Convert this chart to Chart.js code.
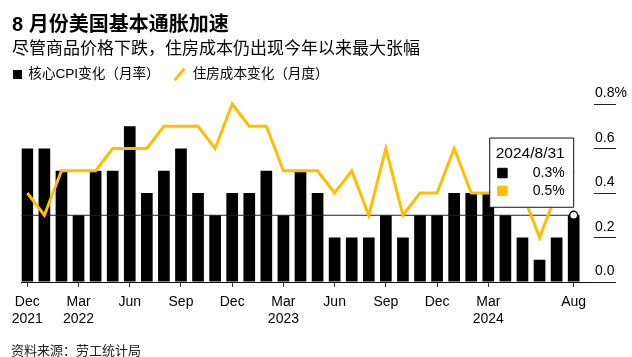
<!DOCTYPE html>
<html>
<head>
<meta charset="utf-8">
<script src="https://cdn.jsdelivr.net/npm/chart.js@4.4.1/dist/chart.umd.min.js"></script>
<style>
  html, body { margin:0; padding:0; background:#fff; }
  #wrap { position:relative; width:632px; height:357px; overflow:hidden; background:#fff;
          font-family:"Liberation Sans", Arial, "Noto Sans CJK SC", sans-serif; color:#000; }
  #c { position:absolute; left:0; top:0; }
  .txt { position:absolute; white-space:nowrap; }
  #title { left:12px; top:13.5px; height:20px; line-height:20px; font-size:20px; font-weight:bold; }
  #sub { left:12px; top:38.5px; height:20px; line-height:20px; font-size:17px; }
  #src { left:11px; top:341px; height:20px; line-height:20px; font-size:13px; color:#222; }
  .leg { top:64px; height:20px; line-height:20px; font-size:13.6px; }
  #sq { position:absolute; left:13.3px; top:70px; width:8.5px; height:8.5px; background:#000; }
  #sl { position:absolute; left:177.5px; top:66.5px; width:3px; height:15px; background:#FFBF00; transform:rotate(41deg); }
</style>
</head>
<body>
<div id="wrap">
  <canvas id="c" width="632" height="357"></canvas>
  <div class="txt" id="title">8 月份美国基本通胀加速</div>
  <div class="txt" id="sub">尽管商品价格下跌，住房成本仍出现今年以来最大张幅</div>
  <div id="sq"></div>
  <div class="txt leg" id="leg1" style="left:28.3px"></div>
  <div id="sl"></div>
  <div class="txt leg" id="leg2" style="left:192.7px"></div>
  <div class="txt" id="src">资料来源：劳工统计局</div>
</div>
<script>
// ---- data ----
const months = ['2021-12','2022-01','2022-02','2022-03','2022-04','2022-05','2022-06','2022-07','2022-08','2022-09','2022-10','2022-11',
                '2022-12','2023-01','2023-02','2023-03','2023-04','2023-05','2023-06','2023-07','2023-08','2023-09','2023-10','2023-11',
                '2023-12','2024-01','2024-02','2024-03','2024-04','2024-05','2024-06','2024-07','2024-08'];
const coreCpi = [0.6,0.6,0.5,0.3,0.5,0.5,0.7,0.4,0.5,0.6,0.4,0.3,
                 0.4,0.4,0.5,0.3,0.5,0.4,0.2,0.2,0.2,0.3,0.2,0.3,
                 0.3,0.4,0.4,0.4,0.3,0.2,0.1,0.2,0.3];
const housing = [0.4,0.3,0.5,0.5,0.5,0.6,0.6,0.6,0.7,0.7,0.7,0.6,
                 0.8,0.7,0.7,0.5,0.5,0.5,0.4,0.5,0.3,0.6,0.3,0.4,
                 0.4,0.6,0.4,0.4,0.4,0.4,0.2,0.4,0.5];
const seriesNames = ['核心CPI变化（月率）', '住房成本变化（月度）'];
const tickMonths = ['2021-12','2022-03','2022-06','2022-09','2022-12','2023-03','2023-06','2023-09','2023-12','2024-03','2024-08'];
const tickText = [['Dec','2021'],['Mar','2022'],['Jun'],['Sep'],['Dec'],['Mar','2023'],['Jun'],['Sep'],['Dec'],['Mar','2024'],['Aug']];
const tooltipDate = '2024/8/31';

// ---- setup ----
const X_MIN = -0.34, X_MAX = 33.19;
const lastIdx = months.length - 1;
const tickIdx = tickMonths.map(m => months.indexOf(m));
const YELLOW = '#FFBF00';

document.getElementById('leg1').textContent = seriesNames[0];
document.getElementById('leg2').textContent = seriesNames[1];

Chart.defaults.font.family = '"Liberation Sans", Arial, "Noto Sans CJK SC", sans-serif';
Chart.defaults.color = '#000';

Chart.Tooltip.positioners.barTop = function(items) {
  const it = items.find(e => e.datasetIndex === 0);
  return it ? { x: it.element.x, y: it.element.y } : false;
};

const chart = new Chart(document.getElementById('c'), {
  type: 'bar',
  data: {
    datasets: [
      { type:'bar', label: seriesNames[0], data: coreCpi.map((v,i)=>({x:i, y:v})),
        backgroundColor:'#000', borderWidth:0, categoryPercentage:1, barPercentage:0.684, order:3 },
      { type:'line', label: seriesNames[1], data: housing.map((v,i)=>({x:i, y:v})),
        borderColor: YELLOW, backgroundColor: YELLOW, borderWidth:3, pointRadius:0, tension:0, clip:false, order:1 },
      { type:'line', label:'latest', data:[{x:X_MIN, y:coreCpi[lastIdx]}, {x:lastIdx, y:coreCpi[lastIdx]}],
        borderColor:'#222', borderWidth:1, pointRadius:[0,4], pointBackgroundColor:'#fff',
        pointBorderColor:'#000', pointBorderWidth:1.5, clip:false, order:2 }
    ]
  },
  options: {
    responsive:false, animation:false, events:[],
    layout:{ padding:{ left:21.5, right:0, top:104, bottom:0 } },
    plugins:{
      legend:{ display:false },
      title:{ display:false },
      tooltip:{
        enabled:true, position:'barTop', xAlign:'right', yAlign:'bottom',
        caretSize:0, caretPadding:8, cornerRadius:0,
        backgroundColor:'#fff', borderColor:'#111', borderWidth:1,
        titleColor:'#000', bodyColor:'#000',
        titleFont:{ size:15.5, weight:'normal' }, bodyFont:{ size:14 },
        titleMarginBottom:2, bodySpacing:1,
        padding:{ top:6, bottom:8, left:6, right:9 },
        bodyAlign:'right', boxWidth:13.4, boxHeight:13.4, boxPadding:2, displayColors:true, usePointStyle:true,
        callbacks:{
          title: () => tooltipDate,
          label: c => c.parsed.y.toFixed(1) + '%',
          labelPointStyle: () => ({ pointStyle:'rect', rotation:0 }),
          labelColor: c => {
            const col = c.dataset.type === 'bar' ? c.dataset.backgroundColor : c.dataset.borderColor;
            return { borderColor: col, backgroundColor: col, borderWidth: 1 };
          }
        }
      }
    },
    scales:{
      x:{
        type:'linear', min:X_MIN, max:X_MAX, offset:false,
        grid:{ offset:false, drawOnChartArea:false, drawTicks:true, tickLength:5, color:'#333' },
        border:{ display:true, color:'#111', width:1 },
        ticks:{ autoSkip:false, maxRotation:0, padding:6, font:{ size:14, lineHeight:1.25 }, color:'#000',
          callback:(v) => { const k = tickIdx.indexOf(v); return k >= 0 ? tickText[k] : ''; } },
        afterBuildTicks: s => { s.ticks = tickIdx.map(v => ({ value: v })); },
        afterFit: s => { s.height = 75; }
      },
      y:{
        position:'right', min:0, max:0.8,
        ticks:{ stepSize:0.2, padding:-21, labelOffset:-10.5, font:{ size:14 }, color:'#000',
          callback:(v, i, t) => Number(v).toFixed(1) + (i === t.length - 1 ? '%' : '') },
        grid:{ drawOnChartArea:false, tickLength:22, color:'#222' },
        border:{ display:false },
        afterFit: s => { s.width = 38; }
      }
    }
  }
});

chart.tooltip.setActiveElements([{ datasetIndex:0, index:lastIdx }, { datasetIndex:1, index:lastIdx }], { x:0, y:0 });
chart.update();
</script>
</body>
</html>
